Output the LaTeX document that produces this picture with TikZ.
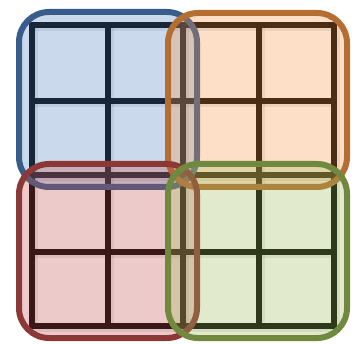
\documentclass[tikz,border=0pt]{standalone}
\usepackage{xcolor}
\usepackage{tikz}

\definecolor{qblue}{RGB}{79,129,189}
\definecolor{qblueline}{RGB}{56,93,138}
\definecolor{qorange}{RGB}{247,150,70}
\definecolor{qorangeline}{RGB}{182,109,49}
\definecolor{qred}{RGB}{192,80,77}
\definecolor{qredline}{RGB}{140,56,54}
\definecolor{qgreen}{RGB}{155,187,89}
\definecolor{qgreenline}{RGB}{113,137,63}

\tikzset{
  quad/.style={line width=6pt, rounded corners=30pt, fill opacity=0.3, draw opacity=1},
  gridline/.style={line width=6pt, black}
}

\begin{document}
\begin{tikzpicture}[x=1pt, y=-1pt]
\useasboundingbox (0,0) rectangle (361,344);

% soft shadow of the grid
\foreach \x in {32,108,183,259,334}
  \draw[line width=8pt, black, opacity=0.08] (\x+1.5,25+2) -- (\x+1.5,326+2);
\foreach \y in {25,101,175,252,326}
  \draw[line width=8pt, black, opacity=0.08] (32+1.5,\y+2) -- (334+1.5,\y+2);

% the grid
\foreach \x in {108,183,259}
  \draw[gridline] (\x,25) -- (\x,326);
\foreach \y in {101,175,252}
  \draw[gridline] (32,\y) -- (334,\y);
\draw[gridline] (32,25) rectangle (334,326);

% the four quadrants
\draw[quad, fill=qblue, draw=qblueline] (19,12) rectangle (197,187);
\draw[quad, fill=qorange, draw=qorangeline] (168,13) rectangle (347,187);
\draw[quad, fill=qred, draw=qredline] (19,164) rectangle (197,338);
\draw[quad, fill=qgreen, draw=qgreenline] (168,164) rectangle (347,338);
\end{tikzpicture}
\end{document}
